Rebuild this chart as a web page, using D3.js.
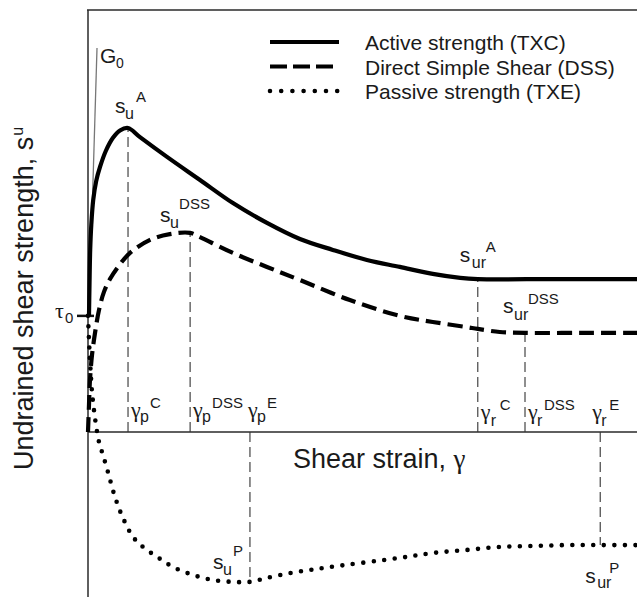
<!DOCTYPE html>
<html>
<head>
<meta charset="utf-8">
<script src="https://cdn.jsdelivr.net/npm/d3@7"></script>
<style>
  html, body { margin: 0; padding: 0; background: #fff; }
  svg { display: block; }
</style>
</head>
<body>
<svg id="chart" width="637" height="597"></svg>
<script>
// ---- data (strain in arbitrary units 0..100, strength normalised so su^A = 100) ----
const activeTXC = [
  [0.18, 38.2], [0.27, 48.0], [0.40, 59.9], [0.60, 68.1], [0.95, 76.3], [1.50, 82.6],
  [2.19, 87.2], [3.28, 92.6], [4.55, 96.8], [5.83, 99.2], [7.29, 100],
  [9.47, 97.0], [14.39, 90.5], [20.4, 82.9], [26.4, 75.3], [32.6, 68.8], [38.6, 63.5],
  [44.6, 59.9], [50.8, 56.6], [56.8, 54.3], [62.8, 52.0], [67.8, 50.7], [71.0, 50.3], [85, 50.3], [100, 50.3]
];
const dssCurve = [
  [0, 0], [0.18, 8.9], [0.36, 17.1], [0.73, 25.3], [1.28, 32.6], [2.0, 40.1], [2.91, 46.1],
  [4.0, 50.3], [5.46, 54.3], [7.65, 58.9], [11.3, 63.2], [14.9, 65.1], [18.6, 65.5],
  [20.4, 64.1], [26.4, 58.9], [32.6, 54.3], [38.6, 50.0], [47.7, 43.4], [56.8, 38.2],
  [62.8, 36.2], [69.0, 34.5], [71.0, 33.9], [75.0, 32.9], [79.6, 32.6], [90, 32.6], [100, 32.6]
];
const passiveTXE = [
  [0, 38.2], [0.18, 30.3], [0.36, 23.7], [0.55, 17.8], [0.73, 13.2], [1.09, 7.2], [1.46, 2.3],
  [2.0, -3.3], [2.73, -7.6], [3.64, -13.2], [4.92, -21.4], [6.38, -28.3], [8.2, -34.5],
  [10.0, -37.8], [12.6, -41.1], [15.5, -44.4], [19.1, -47.0], [22.8, -48.7], [26.4, -49.3],
  [29.5, -49.3], [32.6, -48.0], [36.8, -46.4], [40.4, -45.4], [44.1, -44.4], [56.8, -41.4],
  [62.8, -39.8], [69.0, -38.8], [75.0, -37.8], [81.1, -37.5], [87.2, -37.2], [93.3, -37.2], [100, -37.2]
];
const tau0 = 38.2;
const g0Line = [[0.18, 38.2], [1.64, 126.3]];
// key strains and strengths: [strain, strength]
const peakStrains = { C: [7.29, 100], DSS: [18.6, 65.5], E: [29.5, -49.3] };
const residualStrains = { C: [71.0, 50.3], DSS: [79.6, 32.6], E: [93.3, -37.2] };
const legendLabels = ["Active strength (TXC)", "Direct Simple Shear (DSS)", "Passive strength (TXE)"];
const xDomain = [0, 100];
const yDomain = [0, 100];
const yExtent = [-54.3, 138.8];

// ---- scales ----
const x = d3.scaleLinear().domain(xDomain).range([88, 637]);
const y = d3.scaleLinear().domain(yDomain).range([432, 128]);

const svg = d3.select("#chart");
svg.append("rect").attr("width", 637).attr("height", 597).attr("fill", "#fff");

const SANS = "'Liberation Sans', Arial, sans-serif";
const SERIF = "'Liberation Serif', 'Times New Roman', serif";
const TXT = "#1a1a1a";

// ---- frame / axes ----
const frame = svg.append("g").attr("stroke", "#2a2a2a").attr("stroke-width", 1.5).attr("fill", "none");
frame.append("line").attr("x1", x(0)).attr("x2", x(0)).attr("y1", y(yExtent[1])).attr("y2", y(yExtent[0]));
frame.append("line").attr("x1", x(0) - 1).attr("x2", x(100)).attr("y1", y(yExtent[1])).attr("y2", y(yExtent[1]));
frame.append("line").attr("x1", x(0)).attr("x2", x(100)).attr("y1", y(0)).attr("y2", y(0));

// ---- guide (thin dashed) lines ----
const guides = svg.append("g").attr("stroke", "#333").attr("stroke-width", 1.1)
  .attr("stroke-dasharray", "10 5").attr("fill", "none");
Object.values(peakStrains).concat(Object.values(residualStrains)).forEach(([sx, sy]) => {
  guides.append("line").attr("x1", x(sx)).attr("x2", x(sx)).attr("y1", y(0)).attr("y2", y(sy));
});

// G0 line
svg.append("line")
  .attr("x1", x(g0Line[0][0])).attr("y1", y(g0Line[0][1]))
  .attr("x2", x(g0Line[1][0])).attr("y2", y(g0Line[1][1]))
  .attr("stroke", "#777").attr("stroke-width", 1.3);

// tau0 tick
svg.append("line").attr("x1", x(0) - 11).attr("x2", x(0) + 6)
  .attr("y1", y(tau0)).attr("y2", y(tau0)).attr("stroke", "#111").attr("stroke-width", 2.5);

// ---- curves ----
const line = d3.line().x(d => x(d[0])).y(d => y(d[1])).curve(d3.curveCatmullRom.alpha(0.5));
svg.append("path").datum(activeTXC).attr("d", line)
  .attr("fill", "none").attr("stroke", "#000").attr("stroke-width", 4.2);
svg.append("path").datum(dssCurve).attr("d", line)
  .attr("fill", "none").attr("stroke", "#000").attr("stroke-width", 4.2)
  .attr("stroke-dasharray", "15 7");
svg.append("path").datum(passiveTXE).attr("d", line)
  .attr("fill", "none").attr("stroke", "#000").attr("stroke-width", 4.6)
  .attr("stroke-linecap", "round").attr("stroke-dasharray", "0 10.5");

// ---- label helper: parts placed at pixel offsets from an anchor ----
function label(ax, ay, parts) {
  const g = svg.append("g").attr("fill", TXT);
  parts.forEach(p => {
    g.append("text").attr("x", ax + p[1]).attr("y", ay + p[2])
      .attr("font-family", p[4] || SANS).attr("font-size", p[3]).text(p[0]);
  });
}

// strength labels
label(x(peakStrains.C[0]), y(peakStrains.C[1]), [["s", -13, -15, 21], ["u", -3, -9, 16], ["A", 8, -26, 15]]);
label(x(peakStrains.DSS[0]), y(peakStrains.DSS[1]), [["s", -30, -11, 21], ["u", -20, -5, 16], ["DSS", -11, -24, 15]]);
label(x(residualStrains.C[0]), y(residualStrains.C[1]), [["s", -18, -17, 21], ["ur", -6, -11, 16], ["A", 8, -27, 15]]);
label(x(residualStrains.DSS[0]), y(residualStrains.DSS[1]), [["s", -22, -20, 21], ["ur", -11, -13, 16], ["DSS", 3, -29, 15]]);
label(x(peakStrains.E[0]), y(peakStrains.E[1]), [["s", -37, -13, 21], ["u", -27, -7, 16], ["P", -17, -26, 15]]);
label(x(residualStrains.E[0]), y(residualStrains.E[1]), [["s", -15, 38, 21], ["ur", -3, 43, 16], ["P", 9, 28, 15]]);

// strain labels (anchored on x axis)
const ax0 = y(0);
label(x(peakStrains.C[0]), ax0, [["γ", 3, -15, 22, SERIF], ["p", 12, -10, 16], ["C", 22, -24, 15]]);
label(x(peakStrains.DSS[0]), ax0, [["γ", 3, -15, 22, SERIF], ["p", 12, -10, 16], ["DSS", 22, -24, 15]]);
label(x(peakStrains.E[0]), ax0, [["γ", -2, -15, 22, SERIF], ["p", 7, -10, 16], ["E", 17, -24, 15]]);
label(x(residualStrains.C[0]), ax0, [["γ", 3, -13, 22, SERIF], ["r", 13, -6, 16], ["C", 22, -22, 15]]);
label(x(residualStrains.DSS[0]), ax0, [["γ", 3, -13, 22, SERIF], ["r", 12, -6, 16], ["DSS", 19, -22, 15]]);
label(x(residualStrains.E[0]), ax0, [["γ", -8, -13, 22, SERIF], ["r", 1, -6, 16], ["E", 9, -22, 15]]);

// tau0 and G0
label(x(0), y(tau0), [["τ", -33, 2, 22, SERIF], ["0", -23, 7, 15]]);
label(x(g0Line[1][0]), y(g0Line[1][1]), [["G", 3, 15, 21], ["0", 19, 20, 14]]);

// ---- axis titles ----
const xt = svg.append("text").attr("x", 293).attr("y", 468)
  .attr("font-family", SANS).attr("font-size", 27).attr("fill", TXT);
xt.append("tspan").text("Shear strain, ");
xt.append("tspan").attr("font-family", SERIF).text("γ");

const yt = svg.append("text").attr("transform", "translate(33,470) rotate(-90)")
  .attr("font-family", SANS).attr("font-size", 27).attr("fill", TXT);
yt.append("tspan").text("Undrained shear strength, s");
yt.append("tspan").attr("font-size", 16).attr("dy", -10).attr("dx", 1).text("u");

// ---- legend ----
const legStyles = [
  { w: 4.2, dash: null, cap: "butt" },
  { w: 4.2, dash: "17 6", cap: "butt" },
  { w: 4.6, dash: "0 11.2", cap: "round" }
];
const legY = d3.scalePoint().domain(legendLabels).range([42, 91]);
legendLabels.forEach((t, i) => {
  const s = legStyles[i];
  const ln = svg.append("line").attr("x1", 270).attr("x2", 339)
    .attr("y1", legY(t)).attr("y2", legY(t))
    .attr("stroke", "#000").attr("stroke-width", s.w).attr("stroke-linecap", s.cap);
  if (s.dash) ln.attr("stroke-dasharray", s.dash);
  svg.append("text").attr("x", 365).attr("y", legY(t) + 8)
    .attr("font-family", SANS).attr("font-size", 21).attr("fill", TXT).text(t);
});
</script>
</body>
</html>
